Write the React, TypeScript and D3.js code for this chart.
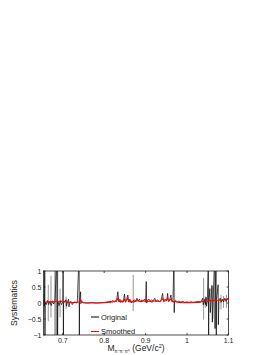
import * as d3 from 'd3';

// original (unsmoothed) systematics, [mass, value]; values beyond ±1 are clipped by the axes
const original: [number, number][] = [
  [0.6537, 0.02], [0.6545, 0.1], [0.6552, -0.1], [0.656, 0.03], [0.6565, 1.6],
  [0.657, -1.6], [0.6575, 0.02], [0.66, -0.05], [0.663, 0.08], [0.666, -0.05],
  [0.669, 0.06], [0.672, -0.08], [0.675, 0.05], [0.678, -0.03], [0.681, 0.05],
  [0.6865, 1.6], [0.687, -1.6], [0.688, 0.05], [0.691, -0.08], [0.694, 0.06],
  [0.697, -0.05], [0.7, 0.03], [0.701, 1.6], [0.7015, -1.6], [0.702, 0.0],
  [0.705, 0.06], [0.708, 0.1], [0.709, -0.1], [0.711, 0.02], [0.714, 0.12],
  [0.715, -0.12], [0.717, 0.02], [0.72, 0.05], [0.723, -0.05], [0.727, 0.03],
  [0.731, 0.02], [0.735, 0.0], [0.7395, 1.6], [0.74, -1.6], [0.7405, 0.02],
  [0.743, 0.35], [0.7435, -0.02], [0.746, 0.05], [0.75, 0.01], [0.76, 0.0],
  [0.77, 0.02], [0.78, 0.0], [0.79, 0.01], [0.8, 0.02], [0.81, 0.04],
  [0.815, 0.0], [0.82, 0.08], [0.825, 0.03], [0.83, 0.1], [0.833, 0.35],
  [0.835, 0.05], [0.838, 0.12], [0.84, 0.02], [0.843, 0.08], [0.846, 0.04],
  [0.849, 0.28], [0.851, 0.05], [0.854, 0.1], [0.857, 0.25], [0.859, 0.03],
  [0.862, 0.12], [0.865, 0.0], [0.868, 0.05], [0.873, 0.1], [0.876, 0.05],
  [0.879, 0.15], [0.882, 0.06], [0.885, 0.12], [0.888, 0.04], [0.891, 0.1],
  [0.894, 0.06], [0.897, 0.12], [0.9, 0.05], [0.9015, 0.67], [0.9025, 0.0],
  [0.905, 0.08], [0.908, 0.12], [0.911, 0.05], [0.914, 0.1], [0.918, 0.06],
  [0.922, 0.15], [0.925, 0.05], [0.929, 0.1], [0.933, 0.04], [0.937, 0.08],
  [0.941, 0.3], [0.943, 0.05], [0.947, 0.12], [0.951, 0.06], [0.953, 0.3],
  [0.955, 0.05], [0.958, 0.1], [0.961, 0.25], [0.963, 0.05], [0.966, 0.08],
  [0.9685, 1.6], [0.969, -0.3], [0.9695, 0.05], [0.972, 0.08], [0.976, 0.04],
  [0.98, 0.06], [0.985, 0.03], [0.99, 0.05], [0.995, 0.02], [1.0, 0.03],
  [1.005, 0.02], [1.01, 0.04], [1.015, 0.02], [1.02, 0.03], [1.025, 0.05],
  [1.03, 0.04], [1.035, 0.06], [1.038, 0.15], [1.039, -0.05], [1.043, 0.12],
  [1.044, -0.05], [1.046, 0.18], [1.047, -0.1], [1.049, 0.08], [1.0515, 1.6],
  [1.052, -1.6], [1.0525, 0.05], [1.055, 0.45], [1.056, -0.3], [1.058, 0.1],
  [1.06, 0.55], [1.061, -0.6], [1.063, 0.1], [1.067, 1.6], [1.0675, -0.8],
  [1.068, 0.05], [1.07, 1.6], [1.0705, -1.6], [1.071, 0.1], [1.075, 0.57],
  [1.0755, -0.68], [1.077, 0.1], [1.08, 0.15], [1.082, 0.02], [1.085, 0.12],
  [1.088, 0.03], [1.091, 0.15], [1.094, 0.05], [1.097, 0.12], [1.1, 0.1],
];

// parts of the original that print as grey: [mass, high, low]
const faintSpikes: [number, number, number][] = [
  [0.654, 0.3, -0.3], [0.665, 0.57, -0.57], [0.6716, 0.85, -0.45],
  [0.6935, 0.45, -0.45], [0.708, 0.2, -0.2], [0.87, 0.88, -0.25],
  [1.04, 0.78, -0.52], [1.044, 0.2, -0.15], [1.0625, 0.5, -0.5],
  [1.082, 0.25, -0.2], [1.088, 0.22, -0.15], [1.095, 0.25, -0.15],
];
// grey block around 0.68-0.69 [from, to]
const greyBand: [number, number] = [0.6795, 0.689];

const smoothed: [number, number][] = [
  [0.6536, 0.0], [0.66, 0.03], [0.665, 0.04], [0.67, 0.02], [0.675, 0.05],
  [0.68, 0.03], [0.685, 0.06], [0.69, 0.04], [0.695, 0.07], [0.7, 0.03],
  [0.705, 0.05], [0.71, 0.02], [0.715, 0.03], [0.72, 0.01], [0.73, 0.02],
  [0.74, 0.03], [0.743, 0.1], [0.746, 0.02], [0.75, 0.01], [0.76, 0.0],
  [0.77, 0.0], [0.78, 0.0], [0.79, 0.0], [0.8, 0.01], [0.81, 0.02],
  [0.815, 0.05], [0.82, 0.03], [0.825, 0.06], [0.83, 0.05], [0.833, 0.15],
  [0.836, 0.04], [0.84, 0.05], [0.845, 0.03], [0.849, 0.12], [0.852, 0.04],
  [0.857, 0.15], [0.86, 0.04], [0.865, 0.06], [0.87, 0.03], [0.875, 0.05],
  [0.88, 0.08], [0.885, 0.05], [0.89, 0.04], [0.895, 0.07], [0.9, 0.04],
  [0.902, 0.12], [0.905, 0.05], [0.91, 0.06], [0.915, 0.03], [0.92, 0.07],
  [0.925, 0.05], [0.93, 0.06], [0.935, 0.04], [0.941, 0.14], [0.945, 0.05],
  [0.95, 0.08], [0.953, 0.15], [0.956, 0.06], [0.961, 0.12], [0.965, 0.04],
  [0.97, 0.05], [0.975, 0.03], [0.98, 0.02], [0.99, 0.01], [1.0, 0.02],
  [1.01, 0.01], [1.02, 0.02], [1.03, 0.02], [1.035, 0.04], [1.04, 0.05],
  [1.045, 0.07], [1.05, 0.05], [1.055, 0.08], [1.06, 0.06], [1.065, 0.09],
  [1.07, 0.07], [1.075, 0.08], [1.08, 0.1], [1.085, 0.08], [1.09, 0.1],
  [1.095, 0.12], [1.1, 0.15],
];

const xTicks = [0.7, 0.8, 0.9, 1.0, 1.1];
const xTickLabels = ['0.7', '0.8', '0.9', '1', '1.1'];
const yTicks = [-1, -0.5, 0, 0.5, 1];
const yTickLabels = ['\u22121', '\u22120.5', '0', '0.5', '1'];
const legendLabels = ['Original', 'Smoothed'];
const legendColors = ['#000', '#ff0000'];

const W = 274;
const H = 355;
const font = 'Arial, "Liberation Sans", Helvetica, sans-serif';

export default function App() {
  const x = d3.scaleLinear().domain([0.6535, 1.1]).range([43.5, 228.5]);
  const y = d3.scaleLinear().domain([-1, 1]).range([335, 271]);
  const [x0, x1] = x.range();
  const [yb, yt] = y.range();

  const line = d3.line<[number, number]>()
    .x(d => x(d[0]))
    .y(d => y(d[1]));

  const tick = 2;

  return (
    <svg width={W} height={H} style={{ position: 'absolute', left: 0, top: 0, background: '#fff' }}>
      <defs>
        <clipPath id="plot">
          <rect x={x0} y={yt} width={x1 - x0} height={yb - yt} />
        </clipPath>
      </defs>

      <g clipPath="url(#plot)">
        <rect x={x(greyBand[0])} y={yt} width={x(greyBand[1]) - x(greyBand[0])} height={yb - yt} fill="#a0a0a0" />
        {faintSpikes.map((s, i) => (
          <line key={i} x1={x(s[0])} x2={x(s[0])} y1={y(s[1])} y2={y(s[2])} stroke="#8a8a8a" strokeWidth={0.9} />
        ))}
        <path d={line(original) ?? ''} fill="none" stroke="#000" strokeWidth={0.7} />
        <path d={line(smoothed) ?? ''} fill="none" stroke="#ff0000" strokeWidth={1.1} />
      </g>

      {/* axes box */}
      <rect x={x0} y={yt} width={x1 - x0} height={yb - yt} fill="none" stroke="#222" strokeWidth={0.8} />

      {xTicks.map((t, i) => (
        <g key={'x' + i}>
          <line x1={x(t)} x2={x(t)} y1={yb} y2={yb - tick} stroke="#222" strokeWidth={0.8} />
          <line x1={x(t)} x2={x(t)} y1={yt} y2={yt + tick} stroke="#222" strokeWidth={0.8} />
          <text x={x(t)} y={yb + 7.5} fontSize={7} fontFamily={font} textAnchor="middle" fill="#222">
            {xTickLabels[i]}
          </text>
        </g>
      ))}

      {yTicks.map((t, i) => (
        <g key={'y' + i}>
          <line x1={x0} x2={x0 + tick} y1={y(t)} y2={y(t)} stroke="#222" strokeWidth={0.8} />
          <line x1={x1} x2={x1 - tick} y1={y(t)} y2={y(t)} stroke="#222" strokeWidth={0.8} />
          <text x={x0 - 2} y={y(t) + 2.5} fontSize={7} fontFamily={font} textAnchor="end" fill="#222">
            {yTickLabels[i]}
          </text>
        </g>
      ))}

      <text
        transform={`translate(17,${(yt + yb) / 2}) rotate(-90)`}
        fontSize={8.5}
        fontFamily={font}
        textAnchor="middle"
        fill="#222"
      >
        Systematics
      </text>

      <text x={(x0 + x1) / 2} y={351} fontSize={8.5} fontFamily={font} textAnchor="middle" fill="#222">
        M
        <tspan fontSize={4.5} dy={1.8}>{'\u03c0\u207a\u03c0\u207b\u03c0\u2070'}</tspan>
        <tspan dy={-1.8}>{' (GeV/c'}</tspan>
        <tspan fontSize={5.5} dy={-2.8}>2</tspan>
        <tspan dy={2.8}>)</tspan>
      </text>

      {legendLabels.map((lab, i) => {
        const ly = 317 + i * 14.5;
        return (
          <g key={lab}>
            <line x1={91} x2={99} y1={ly} y2={ly} stroke={legendColors[i]} strokeWidth={1} />
            <text x={101} y={ly + 2.6} fontSize={7.5} fontFamily={font} fill="#222">{lab}</text>
          </g>
        );
      })}
    </svg>
  );
}
